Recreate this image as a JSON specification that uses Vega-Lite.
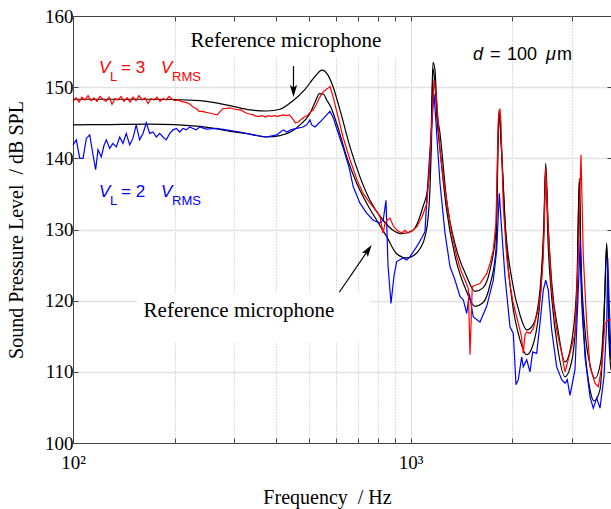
{
"$schema":"https://vega.github.io/schema/vega-lite/v6.json",
"width":539,"height":427,
"autosize":{"type":"none"},
"padding":{"left":73,"top":16,"right":0,"bottom":66},
"background":"white",
"config":{"view":{"stroke":"#444","strokeWidth":1}},
"datasets":{
"refHi":[{"f":100,"db":148.3},{"f":128.7,"db":148.3},{"f":169.0,"db":148.3},{"f":237.7,"db":148.1},{"f":291.7,"db":147.4},{"f":334.3,"db":146.8},{"f":375.4,"db":146.65},{"f":410.2,"db":146.9},{"f":448.3,"db":148.1},{"f":486.4,"db":149.7},{"f":520.7,"db":151.5},{"f":546.2,"db":152.4},{"f":569.0,"db":151.7},{"f":588.7,"db":150.1},{"f":617.5,"db":146.8},{"f":661.2,"db":141.6},{"f":707.7,"db":137.4},{"f":757.6,"db":134.1},{"f":827.9,"db":131.3},{"f":886.3,"db":129.9},{"f":942.4,"db":129.4},{"f":1015.8,"db":129.9},{"f":1087.4,"db":133.2},{"f":1125.2,"db":136.0},{"f":1148.5,"db":142.6},{"f":1164.1,"db":153.5},{"f":1180.3,"db":152.4},{"f":1196.5,"db":146.8},{"f":1221.3,"db":143.5},{"f":1278,"db":134.1},{"f":1368.5,"db":127.1},{"f":1465,"db":123.4},{"f":1550,"db":121.3},{"f":1637,"db":121.8},{"f":1717,"db":124.3},{"f":1789,"db":129.9},{"f":1826,"db":146.8},{"f":1851,"db":142.6},{"f":1902,"db":131.3},{"f":1995,"db":122.9},{"f":2107,"db":118.0},{"f":2206,"db":115.9},{"f":2303,"db":116.6},{"f":2415,"db":121.5},{"f":2481,"db":131.3},{"f":2511,"db":139.3},{"f":2550,"db":131.3},{"f":2620,"db":122.2},{"f":2730,"db":115.9},{"f":2864,"db":111.4},{"f":3004,"db":114.5},{"f":3108,"db":122.9},{"f":3157,"db":137.2},{"f":3194,"db":125.7},{"f":3282,"db":115.9},{"f":3396,"db":111.0},{"f":3514,"db":109.1},{"f":3661,"db":111.7},{"f":3762,"db":121.5},{"f":3806,"db":128.1},{"f":3866,"db":115.9},{"f":3919,"db":111.7}],
"refLo":[{"f":100,"db":144.7},{"f":128.7,"db":144.75},{"f":169.0,"db":144.8},{"f":237.7,"db":144.5},{"f":291.7,"db":143.8},{"f":334.3,"db":143.4},{"f":375.4,"db":143.0},{"f":410.2,"db":143.2},{"f":448.3,"db":143.9},{"f":470,"db":144.7},{"f":503.2,"db":146.3},{"f":522,"db":148.0},{"f":537,"db":149.1},{"f":552,"db":149.0},{"f":564,"db":148.2},{"f":580,"db":147.2},{"f":603.8,"db":144.9},{"f":646.4,"db":140.2},{"f":692,"db":136.5},{"f":740.7,"db":133.7},{"f":793.1,"db":131.3},{"f":849,"db":129.0},{"f":908.9,"db":126.6},{"f":973.2,"db":126.0},{"f":1017.9,"db":126.3},{"f":1065.4,"db":127.3},{"f":1102.6,"db":129.0},{"f":1125.2,"db":131.5},{"f":1140.5,"db":135.6},{"f":1152,"db":142.0},{"f":1164.1,"db":152.6},{"f":1180,"db":150.5},{"f":1196.5,"db":145.5},{"f":1221.3,"db":141.2},{"f":1272,"db":133.4},{"f":1362,"db":125.7},{"f":1458,"db":121.5},{"f":1550,"db":119.2},{"f":1637,"db":119.7},{"f":1717,"db":122.2},{"f":1789,"db":127.1},{"f":1826,"db":146.3},{"f":1864,"db":139.8},{"f":1915,"db":128.5},{"f":1995,"db":120.1},{"f":2107,"db":114.5},{"f":2206,"db":112.4},{"f":2303,"db":113.8},{"f":2415,"db":120.1},{"f":2481,"db":129.9},{"f":2511,"db":138.6},{"f":2550,"db":128.5},{"f":2620,"db":120.1},{"f":2730,"db":113.1},{"f":2864,"db":109.3},{"f":3004,"db":111.7},{"f":3108,"db":120.1},{"f":3157,"db":136.6},{"f":3194,"db":122.9},{"f":3282,"db":113.1},{"f":3396,"db":107.5},{"f":3490,"db":105.9},{"f":3636,"db":107.5},{"f":3736,"db":117.3},{"f":3806,"db":127.9},{"f":3866,"db":114.5},{"f":3919,"db":110.3}],
"blue":[{"f":100,"db":141.9},{"f":102.3,"db":142.6},{"f":104.7,"db":140.0},{"f":107.1,"db":140.0},{"f":109.5,"db":142.8},{"f":112.1,"db":143.3},{"f":114.6,"db":140.5},{"f":116.7,"db":138.4},{"f":118.6,"db":141.2},{"f":121.3,"db":140.2},{"f":123.5,"db":141.8},{"f":125.5,"db":142.6},{"f":128.4,"db":141.4},{"f":131.3,"db":142.1},{"f":134.4,"db":141.6},{"f":137.5,"db":143.0},{"f":140.6,"db":142.1},{"f":143.8,"db":143.5},{"f":147.2,"db":141.9},{"f":150.5,"db":142.8},{"f":153.9,"db":144.7},{"f":157.5,"db":142.6},{"f":161.2,"db":143.5},{"f":164.8,"db":145.0},{"f":168.7,"db":143.5},{"f":172.5,"db":143.7},{"f":176.5,"db":143.0},{"f":180.6,"db":143.5},{"f":184.7,"db":143.0},{"f":188.9,"db":142.6},{"f":193.4,"db":143.5},{"f":197.8,"db":144.0},{"f":202.3,"db":144.2},{"f":207.0,"db":143.7},{"f":211.7,"db":144.2},{"f":216.5,"db":144.0},{"f":221.6,"db":144.4},{"f":226.6,"db":144.2},{"f":231.8,"db":144.0},{"f":237.2,"db":144.4},{"f":248.1,"db":144.1},{"f":265.7,"db":144.2},{"f":284.5,"db":144.0},{"f":311.7,"db":143.7},{"f":341.3,"db":143.3},{"f":373.6,"db":143.0},{"f":401.2,"db":143.3},{"f":419.6,"db":144.0},{"f":429.6,"db":143.7},{"f":441.0,"db":144.0},{"f":459.6,"db":144.2},{"f":479.8,"db":144.4},{"f":492.1,"db":144.7},{"f":503.3,"db":145.4},{"f":509.1,"db":144.7},{"f":520.7,"db":144.4},{"f":538.7,"db":145.1},{"f":563.9,"db":146.1},{"f":576.8,"db":146.6},{"f":591.4,"db":145.6},{"f":605.4,"db":144.0},{"f":629.8,"db":141.6},{"f":656.2,"db":138.8},{"f":676.1,"db":136.0},{"f":707.7,"db":133.7},{"f":740.7,"db":132.3},{"f":774.9,"db":131.3},{"f":811.2,"db":130.9},{"f":829.7,"db":131.4},{"f":845.1,"db":134.1},{"f":856.6,"db":125.0},{"f":874.4,"db":119.6},{"f":892.4,"db":123.5},{"f":908.9,"db":125.5},{"f":948.9,"db":126.0},{"f":973.2,"db":125.7},{"f":995.2,"db":126.2},{"f":1042,"db":127.6},{"f":1078,"db":128.8},{"f":1102.6,"db":129.7},{"f":1115.3,"db":134.1},{"f":1140.5,"db":141.2},{"f":1172.2,"db":149.1},{"f":1194,"db":143.5},{"f":1221.3,"db":136.5},{"f":1263.6,"db":129.5},{"f":1307.4,"db":124.8},{"f":1352.7,"db":122.9},{"f":1399.6,"db":120.6},{"f":1431.7,"db":120.1},{"f":1465,"db":118.2},{"f":1491.3,"db":121.0},{"f":1532.6,"db":117.7},{"f":1604,"db":117.0},{"f":1679.1,"db":119.2},{"f":1756.3,"db":122.9},{"f":1797.6,"db":127.1},{"f":1829.8,"db":135.1},{"f":1860.1,"db":129.9},{"f":1902,"db":123.4},{"f":1968.8,"db":116.3},{"f":2013.3,"db":115.4},{"f":2050.4,"db":108.2},{"f":2083.2,"db":108.9},{"f":2131.4,"db":112.1},{"f":2154.6,"db":110.7},{"f":2206,"db":111.7},{"f":2255.6,"db":110.0},{"f":2297.6,"db":112.8},{"f":2361,"db":112.6},{"f":2415,"db":116.8},{"f":2470,"db":121.5},{"f":2511,"db":122.9},{"f":2555.6,"db":121.5},{"f":2615.1,"db":115.9},{"f":2705.8,"db":110.7},{"f":2800,"db":108.9},{"f":2864,"db":108.4},{"f":2909,"db":108.9},{"f":2963,"db":106.7},{"f":3066,"db":110.3},{"f":3135.4,"db":121.5},{"f":3178.5,"db":128.5},{"f":3209.4,"db":121.5},{"f":3282,"db":112.1},{"f":3396,"db":106.5},{"f":3473,"db":104.9},{"f":3554.4,"db":106.3},{"f":3636,"db":104.9},{"f":3736,"db":109.3},{"f":3806,"db":116.8},{"f":3832.8,"db":126.0},{"f":3874,"db":119.2},{"f":3919,"db":112.1}],
"red":[{"f":100,"db":148.0},{"f":102.1,"db":148.5},{"f":104.2,"db":147.9},{"f":106.3,"db":148.6},{"f":108.5,"db":148.2},{"f":110.8,"db":148.8},{"f":113.1,"db":148.1},{"f":115.4,"db":148.5},{"f":117.8,"db":148.0},{"f":120.2,"db":148.7},{"f":122.7,"db":148.3},{"f":125.3,"db":148.0},{"f":127.9,"db":148.6},{"f":130.5,"db":147.6},{"f":133.2,"db":148.4},{"f":136.0,"db":148.2},{"f":138.8,"db":148.7},{"f":141.6,"db":148.0},{"f":144.6,"db":148.5},{"f":147.6,"db":147.9},{"f":150.6,"db":148.6},{"f":153.7,"db":148.1},{"f":156.9,"db":148.8},{"f":160.2,"db":148.2},{"f":163.5,"db":148.5},{"f":166.9,"db":147.7},{"f":170.3,"db":148.4},{"f":173.8,"db":148.2},{"f":177.4,"db":148.6},{"f":181.1,"db":148.0},{"f":184.9,"db":148.4},{"f":188.7,"db":148.2},{"f":192.6,"db":148.7},{"f":196.6,"db":148.3},{"f":200.7,"db":148.1},{"f":204.8,"db":148.2},{"f":209.1,"db":148.0},{"f":213.4,"db":147.9},{"f":217.8,"db":147.8},{"f":222.3,"db":147.6},{"f":226.9,"db":147.2},{"f":231.6,"db":147.0},{"f":236.4,"db":146.6},{"f":241.3,"db":146.6},{"f":246.3,"db":146.5},{"f":251.4,"db":146.4},{"f":256.6,"db":146.3},{"f":261.9,"db":146.2},{"f":267.3,"db":146.1},{"f":272.9,"db":146.6},{"f":278.5,"db":147.0},{"f":284.3,"db":147.0},{"f":290.2,"db":147.1},{"f":296.2,"db":147.0},{"f":302.3,"db":146.9},{"f":308.6,"db":146.8},{"f":314.9,"db":146.8},{"f":321.5,"db":146.5},{"f":328.1,"db":146.3},{"f":334.9,"db":146.2},{"f":341.9,"db":146.1},{"f":348.9,"db":145.9},{"f":356.2,"db":145.9},{"f":363.5,"db":146.0},{"f":371.1,"db":145.8},{"f":378.7,"db":146.0},{"f":386.6,"db":145.9},{"f":394.6,"db":146.0},{"f":402.8,"db":145.9},{"f":411.1,"db":146.0},{"f":419.6,"db":146.1},{"f":428.3,"db":146.0},{"f":437.2,"db":146.1},{"f":446.2,"db":145.6},{"f":455.5,"db":145.0},{"f":464.9,"db":145.1},{"f":474.5,"db":145.5},{"f":484.4,"db":145.8},{"f":494.4,"db":146.0},{"f":504.6,"db":146.5},{"f":515.1,"db":146.8},{"f":525.7,"db":147.6},{"f":536.6,"db":148.5},{"f":547.7,"db":149.2},{"f":559.1,"db":149.6},{"f":570.6,"db":149.9},{"f":576.8,"db":150.1},{"f":588.7,"db":148.7},{"f":600.9,"db":147.0},{"f":609.2,"db":145.9},{"f":630.3,"db":143.0},{"f":661.2,"db":139.8},{"f":693.4,"db":137.0},{"f":722.4,"db":135.1},{"f":757.6,"db":133.7},{"f":794.7,"db":132.5},{"f":811.2,"db":131.8},{"f":827.9,"db":129.5},{"f":839.3,"db":130.8},{"f":850.8,"db":131.3},{"f":868.5,"db":131.6},{"f":886.3,"db":130.6},{"f":898.5,"db":130.2},{"f":917.1,"db":129.8},{"f":942.4,"db":129.5},{"f":961.9,"db":129.9},{"f":981.7,"db":129.5},{"f":1008.8,"db":129.8},{"f":1043.9,"db":130.4},{"f":1080.1,"db":131.8},{"f":1117.6,"db":133.7},{"f":1140.5,"db":139.8},{"f":1172.2,"db":151.1},{"f":1194,"db":148.2},{"f":1221.3,"db":141.2},{"f":1246.5,"db":137.5},{"f":1278,"db":134.1},{"f":1316.2,"db":130.0},{"f":1368.5,"db":126.2},{"f":1409.3,"db":124.2},{"f":1448.3,"db":122.9},{"f":1481.4,"db":121.7},{"f":1498.5,"db":112.4},{"f":1521.9,"db":122.0},{"f":1561,"db":122.2},{"f":1604,"db":122.4},{"f":1679.1,"db":123.8},{"f":1717,"db":125.2},{"f":1756.3,"db":127.1},{"f":1789,"db":131.0},{"f":1817.1,"db":145.5},{"f":1838,"db":147.0},{"f":1851,"db":145.0},{"f":1880.6,"db":133.2},{"f":1924.9,"db":126.2},{"f":1968.8,"db":122.2},{"f":2013.3,"db":119.6},{"f":2083.2,"db":116.8},{"f":2128.5,"db":115.0},{"f":2154.6,"db":112.6},{"f":2180.1,"db":115.2},{"f":2206,"db":115.6},{"f":2255.6,"db":115.4},{"f":2307.1,"db":116.1},{"f":2387.1,"db":118.7},{"f":2431.1,"db":121.5},{"f":2470,"db":126.2},{"f":2511,"db":138.6},{"f":2555.6,"db":129.9},{"f":2615.1,"db":121.5},{"f":2705.8,"db":115.9},{"f":2800,"db":112.6},{"f":2864,"db":110.0},{"f":2963,"db":112.6},{"f":3066,"db":115.4},{"f":3135.4,"db":126.2},{"f":3194,"db":140.5},{"f":3244.7,"db":126.2},{"f":3321,"db":116.8},{"f":3396,"db":110.7},{"f":3514,"db":108.4},{"f":3593.6,"db":107.9},{"f":3678.1,"db":110.7},{"f":3762,"db":116.8},{"f":3847.8,"db":117.3},{"f":3919,"db":117.3}]
},
"layer":[
{"layer":[
 {"data":{"values":[{"box":"top"}]},"mark":{"type":"rect","color":"white"},
  "encoding":{
   "x":{"datum":214.6,"type":"quantitative","scale":{"type":"log","domain":[100,3946],"nice":false},
     "axis":{"orient":"bottom","values":[100,200,300,400,500,600,700,800,900,1000,2000,3000],
       "labelExpr":"datum.value == 100 ? '10²' : (datum.value == 1000 ? '10³' : '')",
       "labelFont":"Liberation Serif","labelFontSize":19,"labelColor":"black","labelPadding":15,"labelOverlap":false,"labelFlush":false,"labelBaseline":"top",
       "domain":false,"ticks":true,"tickSize":-5,"tickColor":"#444","tickWidth":1,
       "grid":true,
       "gridColor":{"condition":{"test":"datum.value == 1000","value":"#dcdcdc"},"value":"#bbbbbb"},
       "gridDash":{"condition":{"test":"datum.value == 1000","value":[]},"value":[1,2]},
       "gridOpacity":{"condition":{"test":"datum.value == 100","value":0},"value":1},
       "gridWidth":1,
       "title":"Frequency\u00a0 / Hz","titleFont":"Liberation Serif","titleFontSize":20,"titleFontWeight":"normal","titleColor":"black",
       "titleX":254,"titleY":54,"titleBaseline":"middle","titleAnchor":"middle"}},
   "x2":{"datum":929.6},
   "y":{"datum":159.16,"type":"quantitative","scale":{"domain":[100,160],"nice":false,"zero":false},
     "axis":{"orient":"left","values":[100,110,120,130,140,150,160],
       "labelFont":"Liberation Serif","labelFontSize":19,"labelColor":"black","labelPadding":5,"labelFlush":false,
       "domain":false,"ticks":true,"tickSize":-5,"tickColor":"#444",
       "grid":true,"gridColor":"#e2e2e2","gridWidth":1.5,
       "gridOpacity":{"condition":{"test":"datum.value == 100 || datum.value == 160","value":0},"value":1},
       "title":"Sound Pressure Level\u00a0 / dB SPL","titleFont":"Liberation Serif","titleFontSize":20,"titleFontWeight":"normal","titleColor":"black",
       "titleX":-57,"titleY":213.5,"titleBaseline":"middle","titleAngle":-90,"titleAnchor":"middle"}},
   "y2":{"datum":154.24}}},
 {"data":{"values":[{"box":"low"}]},"mark":{"type":"rect","color":"white"},
  "encoding":{"x":{"datum":154.7,"type":"quantitative"},"x2":{"datum":757.6},"y":{"datum":121.08,"type":"quantitative"},"y2":{"datum":114.19}}},
 {"data":{"name":"refHi"},"mark":{"type":"line","color":"black","strokeWidth":1.2,"interpolate":"monotone"},
  "encoding":{"x":{"field":"f","type":"quantitative","title":"Frequency\u00a0 / Hz"},"y":{"field":"db","type":"quantitative","title":"Sound Pressure Level\u00a0 / dB SPL"}}},
 {"data":{"name":"refLo"},"mark":{"type":"line","color":"black","strokeWidth":1.2,"interpolate":"monotone"},
  "encoding":{"x":{"field":"f","type":"quantitative","title":"Frequency\u00a0 / Hz"},"y":{"field":"db","type":"quantitative","title":"Sound Pressure Level\u00a0 / dB SPL"}}},
 {"data":{"name":"blue"},"mark":{"type":"line","color":"#0000ff","strokeWidth":1.2},
  "encoding":{"x":{"field":"f","type":"quantitative","title":"Frequency\u00a0 / Hz"},"y":{"field":"db","type":"quantitative","title":"Sound Pressure Level\u00a0 / dB SPL"}}},
 {"data":{"name":"red"},"mark":{"type":"line","color":"#ff0000","strokeWidth":1.2},
  "encoding":{"x":{"field":"f","type":"quantitative","title":"Frequency\u00a0 / Hz"},"y":{"field":"db","type":"quantitative","title":"Sound Pressure Level\u00a0 / dB SPL"}}},
 {"data":{"values":[{"a":"top"}]},"mark":{"type":"rule","color":"black","strokeWidth":1.2},
  "encoding":{"x":{"datum":449.7,"type":"quantitative"},"y":{"datum":152.97,"type":"quantitative"},"y2":{"datum":149.46}}},
 {"data":{"values":[{"a":"top"}]},"mark":{"type":"point","filled":true,"color":"black","opacity":1,"size":144,"shape":"M0,1L-0.6,-1L0,-0.6L0.6,-1Z"},
  "encoding":{"x":{"datum":449.7,"type":"quantitative"},"y":{"datum":149.46,"type":"quantitative"}}},
 {"data":{"values":[{"a":"low"}]},"mark":{"type":"rule","color":"black","strokeWidth":1.2},
  "encoding":{"x":{"datum":614.6,"type":"quantitative"},"y":{"datum":121.18,"type":"quantitative"},"x2":{"datum":748.8},"y2":{"datum":127.13}}},
 {"data":{"values":[{"a":"low"}]},"mark":{"type":"point","filled":true,"color":"black","opacity":1,"size":144,"angle":34.4,"shape":"M0,-1L-0.6,1L0,0.6L0.6,1Z"},
  "encoding":{"x":{"datum":748.8,"type":"quantitative"},"y":{"datum":127.13,"type":"quantitative"}}},
 {"data":{"values":[{"t":"a"}]},"mark":{"type":"text","text":"Reference microphone","font":"Liberation Serif","fontSize":21,"color":"black","align":"center","baseline":"alphabetic"},
  "encoding":{"x":{"datum":427,"type":"quantitative"},"y":{"datum":155.69,"type":"quantitative"}}},
 {"data":{"values":[{"t":"b"}]},"mark":{"type":"text","text":"Reference microphone","font":"Liberation Serif","fontSize":21,"color":"black","align":"center","baseline":"alphabetic"},
  "encoding":{"x":{"datum":310,"type":"quantitative"},"y":{"datum":117.75,"type":"quantitative"}}},
 {"data":{"values":[{"t":"r1"}]},"mark":{"type":"text","text":"V","font":"Liberation Sans","fontSize":17,"fontStyle":"italic","color":"#ff0000","align":"left","baseline":"alphabetic","dx":0},
  "encoding":{"x":{"datum":119.4,"type":"quantitative"},"y":{"datum":151.95,"type":"quantitative"}}},
 {"data":{"values":[{"t":"r2"}]},"mark":{"type":"text","text":"L","font":"Liberation Sans","fontSize":13,"color":"#ff0000","align":"left","baseline":"alphabetic","dx":11,"dy":8},
  "encoding":{"x":{"datum":119.4,"type":"quantitative"},"y":{"datum":151.95,"type":"quantitative"}}},
 {"data":{"values":[{"t":"r3"}]},"mark":{"type":"text","text":"= 3","font":"Liberation Sans","fontSize":17,"color":"#ff0000","align":"left","baseline":"alphabetic","dx":22},
  "encoding":{"x":{"datum":119.4,"type":"quantitative"},"y":{"datum":151.95,"type":"quantitative"}}},
 {"data":{"values":[{"t":"r4"}]},"mark":{"type":"text","text":"V","font":"Liberation Sans","fontSize":17,"fontStyle":"italic","color":"#ff0000","align":"left","baseline":"alphabetic","dx":62},
  "encoding":{"x":{"datum":119.4,"type":"quantitative"},"y":{"datum":151.95,"type":"quantitative"}}},
 {"data":{"values":[{"t":"r5"}]},"mark":{"type":"text","text":"RMS","font":"Liberation Sans","fontSize":13,"color":"#ff0000","align":"left","baseline":"alphabetic","dx":73,"dy":8},
  "encoding":{"x":{"datum":119.4,"type":"quantitative"},"y":{"datum":151.95,"type":"quantitative"}}},
 {"data":{"values":[{"t":"b1"}]},"mark":{"type":"text","text":"V","font":"Liberation Sans","fontSize":17,"fontStyle":"italic","color":"#0000ff","align":"left","baseline":"alphabetic","dx":0},
  "encoding":{"x":{"datum":119.4,"type":"quantitative"},"y":{"datum":134.61,"type":"quantitative"}}},
 {"data":{"values":[{"t":"b2"}]},"mark":{"type":"text","text":"L","font":"Liberation Sans","fontSize":13,"color":"#0000ff","align":"left","baseline":"alphabetic","dx":11,"dy":8},
  "encoding":{"x":{"datum":119.4,"type":"quantitative"},"y":{"datum":134.61,"type":"quantitative"}}},
 {"data":{"values":[{"t":"b3"}]},"mark":{"type":"text","text":"= 2","font":"Liberation Sans","fontSize":17,"color":"#0000ff","align":"left","baseline":"alphabetic","dx":22},
  "encoding":{"x":{"datum":119.4,"type":"quantitative"},"y":{"datum":134.61,"type":"quantitative"}}},
 {"data":{"values":[{"t":"b4"}]},"mark":{"type":"text","text":"V","font":"Liberation Sans","fontSize":17,"fontStyle":"italic","color":"#0000ff","align":"left","baseline":"alphabetic","dx":62},
  "encoding":{"x":{"datum":119.4,"type":"quantitative"},"y":{"datum":134.61,"type":"quantitative"}}},
 {"data":{"values":[{"t":"b5"}]},"mark":{"type":"text","text":"RMS","font":"Liberation Sans","fontSize":13,"color":"#0000ff","align":"left","baseline":"alphabetic","dx":73,"dy":8},
  "encoding":{"x":{"datum":119.4,"type":"quantitative"},"y":{"datum":134.61,"type":"quantitative"}}},
 {"data":{"values":[{"t":"d1"}]},"mark":{"type":"text","text":"d","font":"Liberation Sans","fontSize":18,"fontStyle":"italic","color":"black","align":"left","baseline":"alphabetic","dx":0},
  "encoding":{"x":{"datum":1529,"type":"quantitative"},"y":{"datum":153.82,"type":"quantitative"}}},
 {"data":{"values":[{"t":"d2"}]},"mark":{"type":"text","text":"=","font":"Liberation Sans","fontSize":18,"color":"black","align":"left","baseline":"alphabetic","dx":17},
  "encoding":{"x":{"datum":1529,"type":"quantitative"},"y":{"datum":153.82,"type":"quantitative"}}},
 {"data":{"values":[{"t":"d3"}]},"mark":{"type":"text","text":"100","font":"Liberation Sans","fontSize":18,"color":"black","align":"left","baseline":"alphabetic","dx":34},
  "encoding":{"x":{"datum":1529,"type":"quantitative"},"y":{"datum":153.82,"type":"quantitative"}}},
 {"data":{"values":[{"t":"d4"}]},"mark":{"type":"text","text":"μ","font":"Liberation Sans","fontSize":18,"fontStyle":"italic","color":"black","align":"left","baseline":"alphabetic","dx":73},
  "encoding":{"x":{"datum":1529,"type":"quantitative"},"y":{"datum":153.82,"type":"quantitative"}}},
 {"data":{"values":[{"t":"d5"}]},"mark":{"type":"text","text":"m","font":"Liberation Sans","fontSize":18,"color":"black","align":"left","baseline":"alphabetic","dx":84},
  "encoding":{"x":{"datum":1529,"type":"quantitative"},"y":{"datum":153.82,"type":"quantitative"}}}
]},
{"data":{"values":[{"frame":"ticks"}]},"mark":{"type":"point","opacity":0},
 "encoding":{
  "x":{"datum":1000,"type":"quantitative","scale":{"type":"log","domain":[100,3946],"nice":false},
    "axis":{"orient":"top","values":[200,300,400,500,600,700,800,900,1000,2000,3000],"labels":false,"domain":false,"grid":false,"ticks":true,"tickSize":-5,"tickColor":"#444","title":null}},
  "y":{"datum":130,"type":"quantitative","scale":{"domain":[100,160],"nice":false,"zero":false},
    "axis":{"orient":"right","values":[110,120,130,140,150],"labels":false,"domain":false,"grid":false,"ticks":true,"tickSize":-5,"tickColor":"#444","title":null}}}}
],
"resolve":{"axis":{"x":"independent","y":"independent"}}
}
